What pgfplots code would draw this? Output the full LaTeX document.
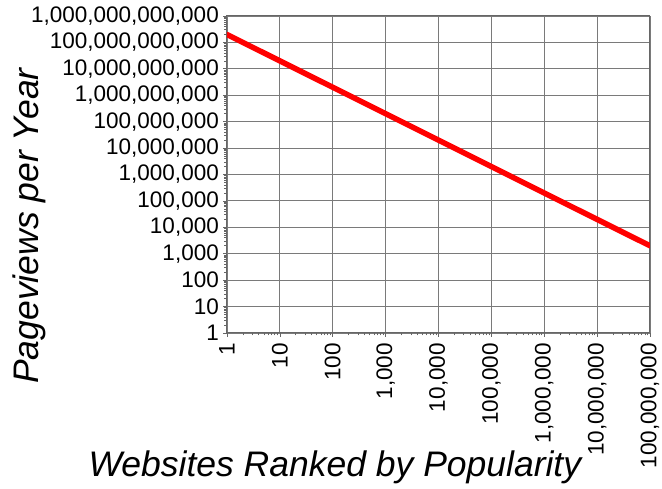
\documentclass[border=0pt]{standalone}
\usepackage{pgfplots}
\pgfplotsset{compat=1.18}
\usepackage{fontspec}
\setmainfont{Liberation Sans}
\begin{document}
\begin{tikzpicture}
\begin{axis}[
  name=ax,
  scale only axis,
  width=423pt, height=317pt,
  xmode=log, ymode=log,
  xmin=1, xmax=1e8, ymin=1, ymax=1e12,
  axis line style={draw=black!60, line width=1pt},
  grid=major,
  major grid style={draw=black!52, line width=0.9pt},
  tick style={draw=black!60, line width=0.7pt},
  tick align=outside,
  major tick length=4pt,
  minor tick length=2.5pt,
  xtick pos=bottom, ytick pos=left,
  xtick={1,10,100,1000,10000,100000,1000000,10000000,100000000},
  xticklabels={1,10,100,{1,000},{10,000},{100,000},{1,000,000},{10,000,000},{100,000,000}},
  ytick={1,10,100,1000,1e4,1e5,1e6,1e7,1e8,1e9,1e10,1e11,1e12},
  yticklabels={1,10,100,{1,000},{10,000},{100,000},{1,000,000},{10,000,000},{100,000,000},{1,000,000,000},{10,000,000,000},{100,000,000,000},{1,000,000,000,000}},
  ticklabel style={font=\fontsize{22.5}{22.5}\selectfont},
  xticklabel style={rotate=90, anchor=east, inner xsep=6pt, inner ysep=1pt},
  yticklabel style={anchor=east, inner xsep=4pt, inner ysep=1pt},
  xlabel={Websites Ranked by Popularity},
  ylabel={Pageviews per Year},
  xlabel style={font=\fontsize{35.5}{35.5}\selectfont\itshape, inner sep=0pt, at={(axis description cs:0.255,-0.452)}, anchor=base},
  ylabel style={font=\fontsize{35.5}{35.5}\selectfont\itshape, inner sep=0pt, at={(axis description cs:-0.4445,0.3375)}, anchor=base, rotate=0},
]
\addplot[red, line width=5.5pt, line cap=round] coordinates {(1,2e11) (1e8,2e3)};
\end{axis}
\path ([xshift=-227pt,yshift=16pt]ax.north west) rectangle ([xshift=12pt,yshift=-156pt]ax.south east);
\end{tikzpicture}
\end{document}
